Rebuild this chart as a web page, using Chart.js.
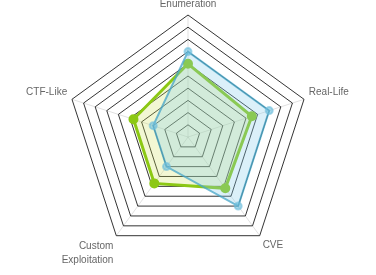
<!DOCTYPE html>
<html>
<head>
<meta charset="utf-8">
<script src="https://cdn.jsdelivr.net/npm/chart.js@4/dist/chart.umd.min.js"></script>
<style>
html,body{margin:0;padding:0;background:#fff;overflow:hidden;}
#wrap{width:376px;height:275px;position:relative;overflow:hidden;}
#inner{position:absolute;left:0;top:-7px;width:376px;height:278px;}
</style>
</head>
<body>
<div id="wrap"><div id="inner"><canvas id="c"></canvas></div></div>
<script>
const categories = ["Enumeration", "Real-Life", "CVE", ["Custom", "Exploitation"], "CTF-Like"];
const seriesBlue = [7, 7, 7, 3, 3];
const seriesGreen = [6, 5.5, 5.2, 4.7, 4.7];
const scaleMin = 0;
const scaleMax = 10;
const scaleStep = 1;

new Chart(document.getElementById('c'), {
  type: 'radar',
  data: {
    labels: categories,
    datasets: [
      {
        label: 'A',
        data: seriesBlue,
        borderColor: 'rgba(70,165,200,0.75)',
        backgroundColor: 'rgba(135,206,235,0.3)',
        pointBackgroundColor: 'rgba(110,190,220,0.6)',
        pointBorderColor: 'rgba(110,190,220,0.6)',
        borderWidth: 2,
        pointRadius: 3.5
      },
      {
        label: 'B',
        data: seriesGreen,
        borderColor: 'rgb(140,200,20)',
        backgroundColor: 'rgba(205,225,80,0.25)',
        pointBackgroundColor: 'rgb(140,200,20)',
        pointBorderColor: 'rgb(140,200,20)',
        borderWidth: 3,
        pointRadius: 3.5
      }
    ]
  },
  options: {
    responsive: true,
    maintainAspectRatio: false,
    animation: false,
    plugins: { legend: { display: false }, tooltip: { enabled: false } },
    scales: {
      r: {
        min: scaleMin,
        max: scaleMax,
        ticks: { stepSize: scaleStep, display: false },
        grid: { color: 'rgba(30,30,30,0.9)', lineWidth: 1 },
        angleLines: { color: 'rgba(0,0,0,0.12)' },
        pointLabels: {
          color: '#666',
          padding: 5,
          font: (ctx) => ({
            family: 'Liberation Sans, Arial, sans-serif',
            size: 10,
            lineHeight: Array.isArray(categories[ctx.index]) ? 1.35 : 1.2
          })
        }
      }
    }
  }
});
</script>
</body>
</html>
